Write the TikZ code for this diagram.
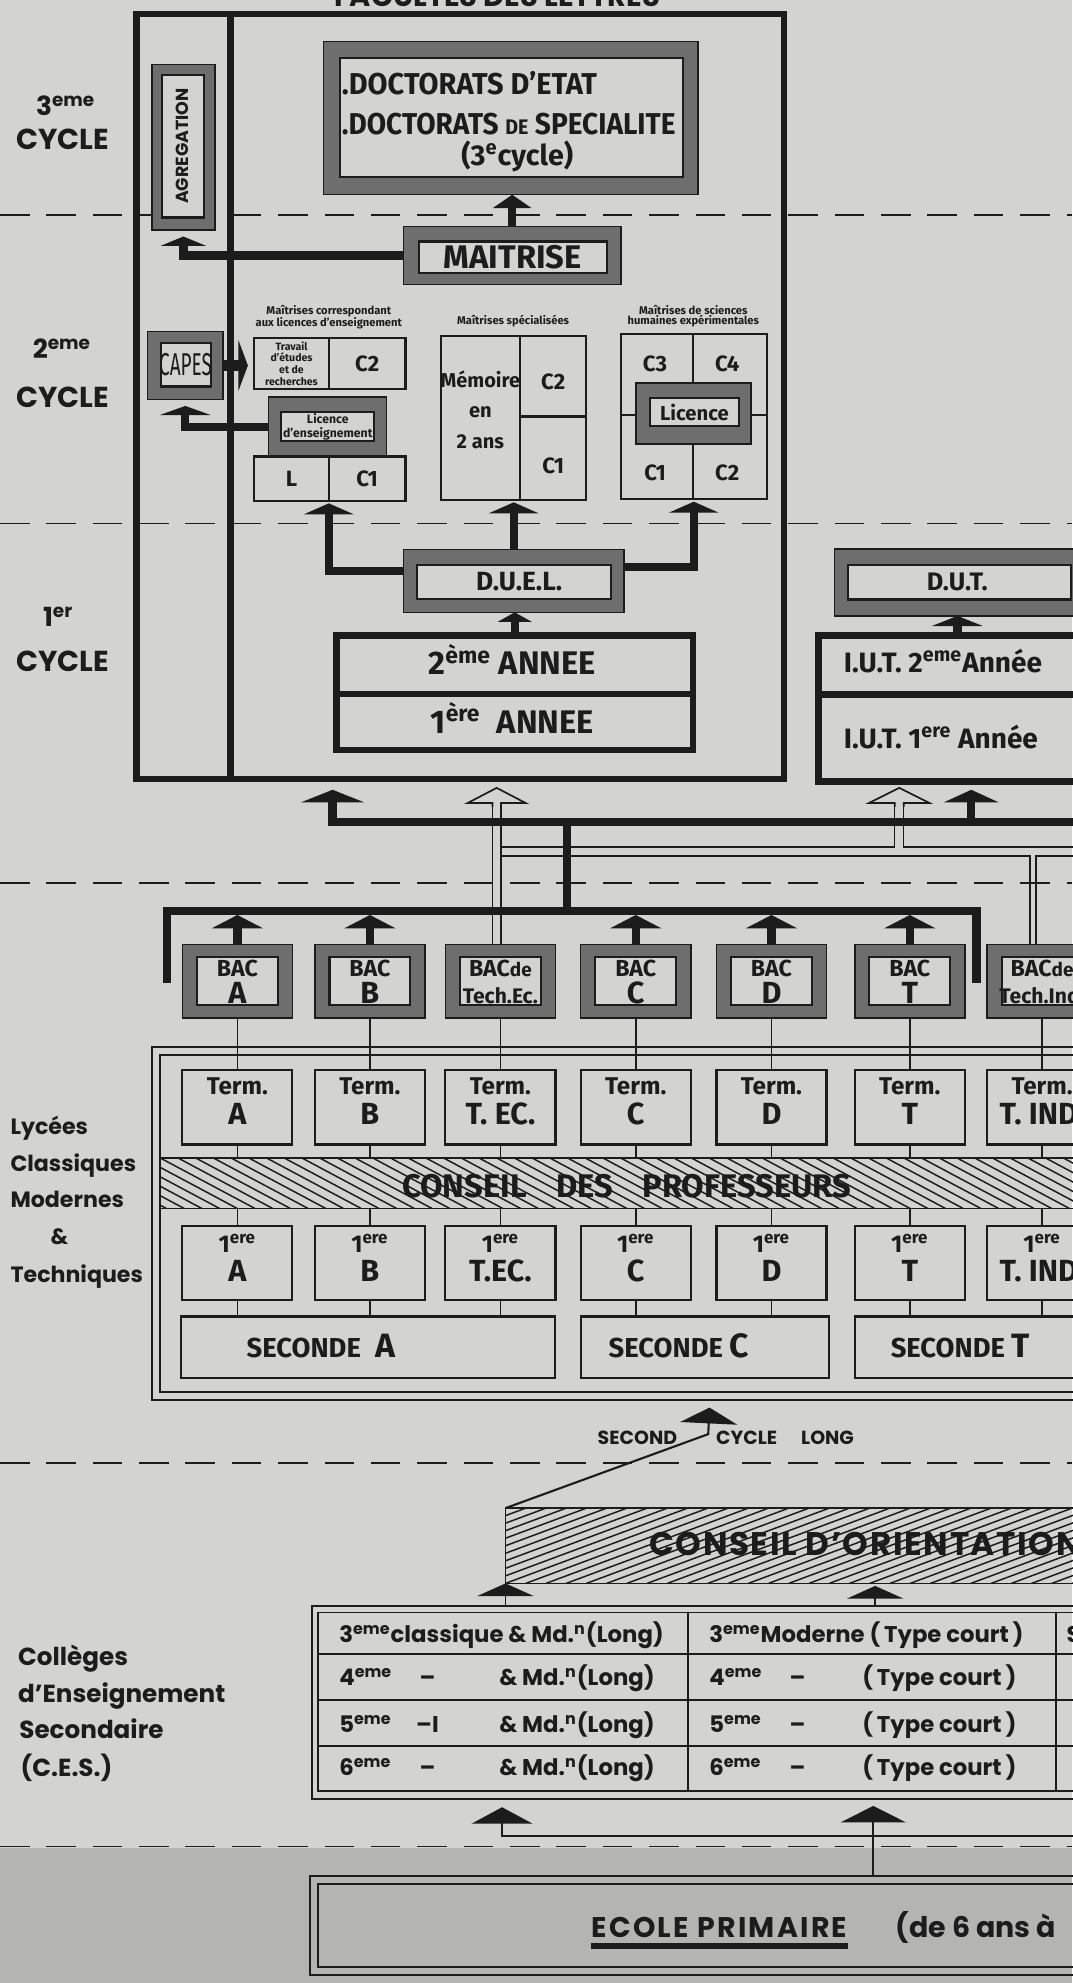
\documentclass[tikz,border=0pt]{standalone}
\usepackage{fontspec}
\setmainfont{Fira Sans}
\newfontfamily\fut{Poppins}
\usetikzlibrary{arrows.meta,fit,calc}
\definecolor{paper}{RGB}{211,211,209}
\definecolor{paperdk}{RGB}{180,180,178}
\definecolor{stipc}{RGB}{110,110,110}
\definecolor{ink}{RGB}{28,28,28}
\newcommand\fsz[1]{\fontsize{#1}{#1}\selectfont}
\tikzset{
  stip/.style={draw=ink, line width=0.7pt, fill=stipc, inner sep=0pt, outer sep=0pt},
  inbx/.style={draw=ink, line width=1pt, fill=paper, inner sep=0pt, outer sep=0pt},
  cell/.style={draw=ink, line width=1pt, inner sep=0pt, outer sep=0pt},
  frm/.style={draw=ink, line width=3.2pt, inner sep=0pt, outer sep=0pt},
  thk/.style={draw=ink, line width=4pt},
  thn/.style={draw=ink, line width=0.8pt},
  dsh/.style={draw=ink, line width=0.8pt, dash pattern=on 14pt off 8pt},
  hatchl/.style={draw=ink, line width=0.7pt},
  txt/.style={inner sep=0pt, anchor=base},
  ctr/.style={inner sep=0pt},
  fb/.style={font=\bfseries\fsz{#1}},
  pb/.style={font=\fut\bfseries\fsz{#1}},
  tri/.style args={#1/#2}{-{Triangle[width=#1,length=#2]}},
}
\newcommand\hollowarrow[5]{%
  \draw[thn, fill=paper] ({#1-#5},{#3+3}) -- ({#1-#5},#3) -- ({#1-#4},#3) -- (#1,#2) -- ({#1+#4},#3) -- ({#1+#5},#3) -- ({#1+#5},{#3+3});}
\begin{document}
\begin{tikzpicture}[x=0.6pt,y=-0.6pt, every node/.append style={text=ink}]
\fill[paper] (0,0) rectangle (848,1568);
\fill[paperdk] (0,1461) rectangle (848,1568);
\useasboundingbox (0,0) rectangle (848,1568);
\foreach \yy in {170,414,698,1157,1460} \draw[dsh] (0,\yy) -- (848,\yy);

% title and left labels
\node[txt, pb=13.7] (ftitle) at (393,5) {FACULTES DES LETTRES};
\node[txt, pb=12.5] (l3a) at (52,91.5) {3\textsuperscript{eme}};
\node[txt, pb=13.7] (l3b) at (49.4,118) {CYCLE};
\node[txt, pb=12.5] (l2a) at (49,283.8) {2\textsuperscript{eme}};
\node[txt, pb=13.7] (l2b) at (49.4,322.6) {CYCLE};
\node[txt, pb=12.5] (l1a) at (46,495.6) {1\textsuperscript{er}};
\node[txt, pb=13.7] (l1b) at (49.4,530.8) {CYCLE};
\node[txt, anchor=base west, pb=10.5] (ly1) at (8,897) {Lycées};
\node[txt, anchor=base west, pb=10.5] (ly2) at (8,926) {Classiques};
\node[txt, anchor=base west, pb=10.5] (ly3) at (8,955) {Modernes};
\node[txt, pb=10.5] (ly4) at (47,984) {\&};
\node[txt, anchor=base west, pb=10.5] (ly5) at (8,1014) {Techniques};
\node[txt, anchor=base west, pb=11.7] (ce1) at (14,1317) {Collèges};
\node[txt, anchor=base west, pb=11.7] (ce2) at (14,1346) {d’Enseignement};
\node[txt, anchor=base west, pb=11.7] (ce3) at (15,1375) {Secondaire};
\node[txt, anchor=base west, pb=11.7] (ce4) at (16,1405) {(C.E.S.)};

% ---------- faculte ----------
\node[frm, fit={(108,11) (620,616)}] (fac) {};
\draw[frm] (182.5,11) -- (182.5,616);
\node[stip, fit={(120,51) (170,182)}] (agr) {};
\node[inbx, fit={(128,59) (161,172)}] (agri) {};
\node[pb=8.3, inner sep=0pt, rotate=90] (agrt) at (agri.center) {AGREGATION};

\node[stip, fit={(256,33) (552,154)}] (doc) {};
\node[inbx, fit={(269,46) (540,140)}] (doci) {};
\node[txt, anchor=base west, fb=14.3] (doc1) at (270,75) {\scalebox{0.96}[1]{.DOCTORATS D’ETAT}};
\node[txt, anchor=base west, fb=14.3] (doc2) at (270,106) {\scalebox{0.93}[1]{.DOCTORATS {\fsz{10}DE} SPECIALITE}};
\node[txt, fb=13.6] (doc3) at (409,130.5) {(3\textsuperscript{e}cycle)};

\node[stip, fit={(319,179) (491,225)}] (mait) {};
\node[inbx, fit={(331,191) (480,216)}] (maiti) {};
\node[ctr, fb=15.5] (maitt) at (maiti.center) {MAITRISE};

\node[stip, fit={(116.5,262) (176.5,316)}] (capes) {};
\node[inbx, fit={(127,271) (166.5,305.6)}] (capesi) {};
\node[ctr] (capest) at (capesi.center) {\scalebox{0.6}[1]{\mdseries\fsz{15}CAPES}};

% group 1
\node[fb=5.3, inner sep=0pt] (cp1a) at (260,246.3) {Maîtrises correspondant};
\node[fb=5.3, inner sep=0pt] (cp1b) at (260,255.6) {aux licences d’enseignement};
\node[cell, fit={(201,267.4) (260,307.7)}] (g1a) {};
\node[ctr, align=center, font=\bfseries\fontsize{5}{5.6}\selectfont] (g1at) at (g1a.center) {Travail\\d’études\\et de\\recherches};
\node[cell, fit={(260,267.4) (320.6,307.7)}] (g1b) {};
\node[ctr, fb=10.5] (g1bt) at (g1b.center) {C2};
\node[stip, fit={(212.4,314) (305.8,361)}] (ld) {};
\node[inbx, fit={(222.3,326) (296,349)}] (ldi) {};
\node[ctr, align=center, font=\bfseries\fontsize{5.8}{6.3}\selectfont] (ldt) at (ldi.center) {Licence\\d’enseignement};
\node[cell, fit={(201,361) (260,396)}] (g1c) {};
\node[ctr, fb=10.5] (g1ct) at (g1c.center) {L};
\node[cell, fit={(260,361) (320.6,396)}] (g1d) {};
\node[ctr, fb=10.5] (g1dt) at (g1d.center) {C1};

% group 2
\node[fb=5.3, inner sep=0pt] (cp2) at (405.7,254.2) {Maîtrises spécialisées};
\node[cell, fit={(348.4,266) (463.7,395.2)}] (g2) {};
\draw[thn, line width=1pt] (411.3,266) -- (411.3,395.2);
\draw[thn, line width=1pt] (411.3,329.3) -- (463.7,329.3);
\node[fb=9.5, inner sep=0pt] (g2m1) at (379.8,299.8) {Mémoire};
\node[fb=9.5, inner sep=0pt] (g2m2) at (379.8,326.2) {en};
\node[fb=9.5, inner sep=0pt] (g2m3) at (379.8,349) {2 ans};
\node[fb=10.5, inner sep=0pt] (g2c2) at (437.5,301.7) {C2};
\node[fb=10.5, inner sep=0pt] (g2c1) at (437.5,368.3) {C1};

% group 3
\node[fb=5.3, inner sep=0pt] (cp3a) at (548.2,245) {Maîtrises de sciences};
\node[fb=5.3, inner sep=0pt] (cp3b) at (548.2,254.2) {humaines expérimentales};
\node[cell, fit={(491,264.3) (606.2,394.7)}] (g3) {};
\draw[thn, line width=1pt] (548.2,264.3) -- (548.2,394.7);
\draw[thn, line width=1pt] (491,328) -- (606.2,328);
\node[fb=10.5, inner sep=0pt] (g3c3) at (518,287.7) {C3};
\node[fb=10.5, inner sep=0pt] (g3c4) at (575,287.7) {C4};
\node[fb=10.5, inner sep=0pt] (g3c1) at (518,373.6) {C1};
\node[fb=10.5, inner sep=0pt] (g3c2) at (575,373.6) {C2};
\node[stip, fit={(503,303) (594,351)}] (lic3) {};
\node[inbx, fit={(513.8,314.8) (584.3,337.2)}] (lic3i) {};
\node[ctr, fb=9.6] (lic3t) at (lic3i.center) {Licence};

% DUEL and years
\node[stip, fit={(319,434.7) (493.4,484.2)}] (duel) {};
\node[inbx, fit={(330,446.6) (483,473.4)}] (dueli) {};
\node[ctr, fb=12.5] (duelt) at ($(dueli.center)+(4,0)$) {D.U.E.L.};
\node[frm, fit={(266,502.5) (548,593)}] (an) {};
\draw[frm] (266,548.7) -- (548,548.7);
\node[txt, fb=15.5] (an2) at (405,533.5) {2\textsuperscript{ème} ANNEE};
\node[txt, fb=15.5] (an1) at (405,579.6) {1\textsuperscript{ère}\hspace{4pt} ANNEE};

% IUT
\node[stip, fit={(659.8,434) (870,487)}] (dut) {};
\node[inbx, fit={(670.7,446.5) (847,474)}] (duti) {};
\node[ctr, fb=12] (dutt) at (757,460) {D.U.T.};
\node[frm, fit={(647,502.5) (870,618)}] (iut) {};
\draw[frm] (647,549) -- (870,549);
\node[txt, anchor=base west, fb=13.3] (iut2) at (667,532) {I.U.T. 2\textsuperscript{eme}Année};
\node[txt, anchor=base west, fb=13.3] (iut1) at (667,591.5) {I.U.T. 1\textsuperscript{ere} Année};

% arrows inside faculty
\draw[thk, tri=18pt/6.3pt] (mait.north) -- (mait.north |- doc.south);
\draw[thk, tri=21.6pt/4.5pt] (mait.west) -| ($(agr.south)+(0,5)$);
\draw[draw=ink, line width=5pt, tri=24pt/4.5pt] (capes.east) -- ($(capes.east -| g1a.west)+(-5,0)$);
\draw[thk, tri=24pt/4.3pt] (ld.west) -| ($(capes.south)+(0,5)$);
\draw[thk, tri=23.4pt/5.2pt] ($(duel.west)+(0,-8)$) -| ($(g1c.south east)+(0,2)$);
\draw[thk, tri=23.4pt/5.2pt] (duel.north) -- ($(duel.north |- g2.south)+(0,2)$);
\draw[thk, tri=23.4pt/5.2pt] ($(duel.east)+(0,-11)$) -| ($(g3.south)+(0,2)$);
\draw[thk, tri=16pt/4.5pt] (an.north) -- (an.north |- duel.south);
\draw[thk, tri=24pt/4.8pt] (iut.north -| dutt.south) -- (dutt.south |- dut.south);

% ---------- BAC row ----------
\foreach \nm/\cx/\ba/\bb in {A/187.7/BAC/A, B/292.5/BAC/B, E/395.7/{BAC{\fsz{9}de}}/{\fsz{10}Tech.Ec.}, C/502.7/BAC/C, D/610/BAC/D, T/719.4/BAC/T, I/824/{BAC{\fsz{9}de}}/{\fsz{10}Tech.Ind.}} {
  \node[stip, fit={({\cx-43.5},747) ({\cx+43.5},804.8)}] (b\nm) {};
  \node[inbx, fit={({\cx-32},756.6) ({\cx+32},795)}] (bi\nm) {};
  \node[txt, fb=11] (bt\nm) at (\cx,772) {\ba};
  \node[txt, fb=14.5] (bl\nm) at (\cx,793.5) {\bb};
}

% channels (hollow arrows)
\draw[thn] (389.3,635) -- (389.3,747);
\draw[thn] (396,635) -- (396,747);
\draw[thn] (396,670) -- (707.3,670) -- (707.3,635);
\draw[thn] (714.4,635) -- (714.4,670) -- (870,670);
\draw[thn] (396,677) -- (814.2,677) -- (814.2,747);
\draw[thn] (819.4,747) -- (819.4,677) -- (870,677);
\hollowarrow{392.7}{623}{635}{23}{3.35}
\hollowarrow{711}{623}{635}{24}{3.55}

\coordinate (hub) at (448.5,650);
\coordinate (brk) at (448.5,720.5);
\coordinate (facin) at (263,624.5);
\coordinate (iutin) at (768,624.5);
\draw[thk] (brk) -- (hub);
\draw[thk] (hub) -- (870,650);
\draw[thk, tri=30pt/6pt] (hub) -| (facin);
\draw[thk, tri=26pt/6pt] (hub) -| (iutin);
\draw[thk, line join=miter] (132,777) -- (132,720.5) -- (772,720.5) -- (772,777);
\foreach \nm in {A,B,C,D,T} \draw[thk, tri=24pt/6.3pt] (b\nm.north) -- ($(b\nm.north |- brk)+(0,3)$);

% ---------- lycees ----------
\node[cell, line width=0.9pt, fit={(120,828) (870,1107)}] (lyo) {};
\node[cell, line width=0.9pt, fit={(126.5,834.5) (870,1100.5)}] (lyi) {};
\node[inner sep=0pt, outer sep=0pt, fit={(126.5,915.5) (870,955.5)}] (cp) {};
\begin{scope}
  \clip (cp.north west) rectangle (cp.south east);
  \foreach \k in {-6,...,52} \draw[hatchl] ({126.5+\k*14},915.5) -- ++(75,40);
\end{scope}
\draw[thn] (cp.north west) -- (cp.north east);
\draw[thn] (cp.south west) -- (cp.south east);
\node[fb=15.5, inner sep=0pt] (cpt) at (495.6,938) {CONSEIL\hspace{14pt}DES\hspace{14pt}PROFESSEURS};

\foreach \nm/\cx/\tlet/\flet in {A/187.7/A/A, B/292.5/B/B, E/395.7/{T. EC.}/{T.EC.}, C/502.7/C/C, D/610/D/D, T/719.4/T/T, I/824/{T. IND.}/{T. IND.}} {
  \node[cell, fit={({\cx-43.5},846) ({\cx+43.5},905)}] (t\nm) {};
  \node[txt, fb=11.5] (tt\nm) at (\cx,865.4) {Term.};
  \node[txt, fb=14.5] (tl\nm) at (\cx,889) {\tlet};
  \node[cell, fit={({\cx-43.5},969.5) ({\cx+43.5},1028)}] (f\nm) {};
  \node[txt, fb=11.5] (ft\nm) at (\cx,990.5) {1\textsuperscript{ere}};
  \node[txt, fb=14.5] (fl\nm) at (\cx,1013) {\flet};
  \draw[thn] (b\nm.south) -- (t\nm.north);
  \draw[thn] (t\nm.south) -- (t\nm.south |- cp.north);
  \draw[thn] (cp.south -| f\nm.north) -- (f\nm.north);
}
\node[cell, fit={(143.3,1041) (439.1,1089.5)}] (sA) {};
\node[cell, fit={(459.7,1041) (655.4,1089.5)}] (sC) {};
\node[cell, fit={(676,1041) (870,1089.5)}] (sT) {};
\node[txt, anchor=base west, fb=13] (sAt) at (194.7,1073.5) {SECONDE\hspace{7pt}{\fsz{16}A}};
\node[txt, anchor=base west, fb=13] (sCt) at (481,1073.5) {SECONDE {\fsz{16}C}};
\node[txt, anchor=base west, fb=13] (sTt) at (704,1073.5) {SECONDE {\fsz{16}T}};
\foreach \nm/\s in {A/sA, B/sA, E/sA, C/sC, D/sC, T/sT, I/sT} \draw[thn] (f\nm.south) -- (f\nm.south |- \s.north);

% ---------- second cycle long / orientation ----------
\node[inner sep=0pt, outer sep=0pt, fit={(399.7,1192.5) (870,1252)}] (orient) {};
\begin{scope}
  \clip (orient.north west) rectangle (orient.south east);
  \foreach \k in {-12,...,32} \draw[hatchl] ({399.7+\k*16},1252) -- ++(160,-59.5);
\end{scope}
\draw[thn] (orient.north east) -- (orient.north west) -- (orient.south west) -- (orient.south east);
\node[txt, anchor=base west, pb=15.5] (ort) at (513,1230) {\addfontfeature{LetterSpace=5}CONSEIL D’ORIENTATION};
\coordinate (sclong) at (561,1113);
\draw[thn, line width=1pt, tri=27pt/7.5pt] (orient.north west) -- (560,1134) -- (sclong);
\node[txt, anchor=base west, pb=9] (sc1) at (472.3,1142) {SECOND};
\node[txt, anchor=base west, pb=9] (sc2) at (566,1142) {CYCLE};
\node[txt, anchor=base west, pb=9] (sc3) at (633.2,1142) {LONG};

% ---------- CES table ----------
\node[cell, line width=0.9pt, fit={(246.5,1270) (870,1422.5)}] (tab) {};
\node[cell, line width=0.9pt, fit={(251.5,1275) (870,1416.5)}] (tabi) {};
\foreach \yy in {1308,1344,1380.5} \draw[thn, line width=1pt] (251.5,\yy) -- (870,\yy);
\draw[thn, line width=1pt] (544,1275) -- (544,1416.5);
\draw[thn, line width=1pt] (835.3,1275) -- (835.3,1416.5);
\coordinate (oax) at (692,1254);
\draw[thn, tri=26.6pt/6pt] (tab.north -| orient.south west) -- (orient.south west);
\draw[thn, tri=26.6pt/6pt] (tab.north -| oax) -- (oax);
\tikzset{ces/.style={txt, pb=10.8}}
\node[ces, anchor=base west] (r1a) at (268,1299) {3\textsuperscript{eme}classique \& Md.\textsuperscript{n}(Long)};
\node[ces, anchor=base west] (r1b) at (560.6,1299) {3\textsuperscript{eme}Moderne (\,Type court\,)};
\node[ces, anchor=base west] (r1c) at (843,1299) {S};
\foreach \rr/\yy/\nn/\dd in {2/1333/4/–, 3/1370/5/–I, 4/1404/6/–} {
  \node[ces, anchor=base west] (r\rr a) at (268,\yy) {\nn\textsuperscript{eme}};
  \node[ces] (r\rr b) at (338,\yy) {\dd};
  \node[ces, anchor=base east] (r\rr c) at (518,\yy) {\& Md.\textsuperscript{n}(Long)};
  \node[ces, anchor=base west] (r\rr d) at (560.6,\yy) {\nn\textsuperscript{eme}};
  \node[ces] (r\rr e) at (630.7,\yy) {–};
  \node[ces, anchor=base east] (r\rr f) at (804,\yy) {(\,Type court\,)};
}

% ---------- ecole primaire ----------
\node[cell, line width=0.9pt, fit={(245.3,1483.5) (870,1562)}] (ecole) {};
\node[cell, line width=0.9pt, fit={(251.5,1490) (870,1555.5)}] (ecolei) {};
\node[txt, anchor=base west, pb=13.5] (ec1) at (467.3,1532) {\addfontfeature{LetterSpace=8}ECOLE PRIMAIRE};
\draw[draw=ink, line width=2.7pt] ([yshift=-3.9pt]ec1.base west) -- ([yshift=-3.9pt]ec1.base east);
\node[txt, anchor=base west, pb=13.5] (ec2) at (708,1532) {(de 6 ans à};
\coordinate (ba1) at (397,1429);
\coordinate (ba2) at (690.5,1428);
\draw[thn, tri=28.8pt/7.8pt] (870,1451.6) -| (ba1);
\draw[thn, tri=31pt/7.8pt] (ecole.north -| ba2) -- (ba2);
\end{tikzpicture}
\end{document}
